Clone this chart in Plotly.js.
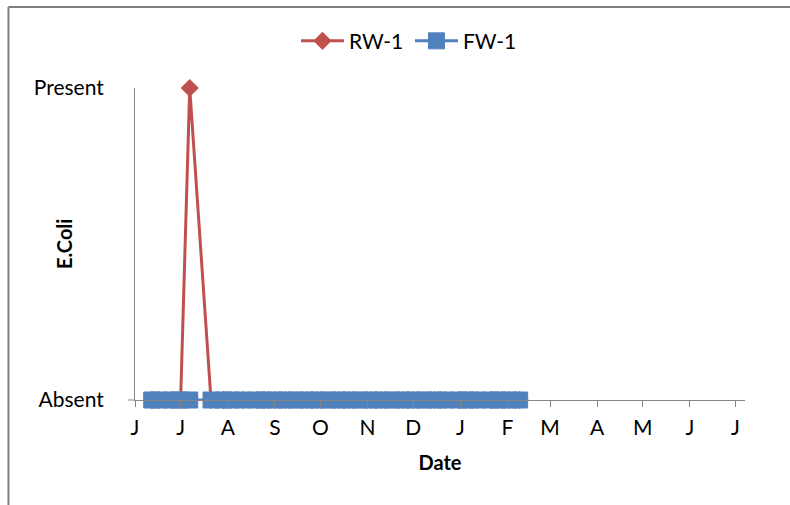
<!DOCTYPE html>
<html>
<head>
<meta charset="utf-8">
<script src="https://cdn.plot.ly/plotly-3.0.1.min.js"></script>
<style>html,body{margin:0;padding:0;background:#fff;}#chart{width:790px;height:505px;}</style>
</head>
<body>
<div id="chart"></div>
<script>
// Sample dates
var sampleDates = [
  '2012-06-12','2012-06-17','2012-06-25','2012-07-01','2012-07-07','2012-07-21',
  '2012-07-29','2012-08-03','2012-08-11','2012-08-20','2012-08-25','2012-09-01',
  '2012-09-08','2012-09-15','2012-09-22','2012-09-29','2012-10-06','2012-10-13',
  '2012-10-20','2012-10-27','2012-11-03','2012-11-10','2012-11-17','2012-11-24',
  '2012-12-01','2012-12-08','2012-12-15','2012-12-22','2012-12-31','2013-01-05',
  '2013-01-12','2013-01-21','2013-01-26','2013-02-02','2013-02-09'
];
// 0 = Absent, 1 = Present
var rw1 = [0,0,0,0,1,0, 0,0,0,0,0,0, 0,0,0,0,0,0, 0,0,0,0,0,0, 0,0,0,0,0,0, 0,0,0,0,0];
var fw1 = [0,0,0,0,0,0, 0,0,0,0,0,0, 0,0,0,0,0,0, 0,0,0,0,0,0, 0,0,0,0,0,0, 0,0,0,0,0];

var tickDates = ['2012-06-01','2012-07-01','2012-08-01','2012-09-01','2012-10-01','2012-11-01',
  '2012-12-01','2013-01-01','2013-02-01','2013-03-01','2013-04-01','2013-05-01','2013-06-01','2013-07-01'];
var tickLetters = ['J','J','A','S','O','N','D','J','F','M','A','M','J','J'];
var yVals = [0, 1];
var yLabels = ['Absent', 'Present'];
var yTitle = 'E.Coli';
var xTitle = 'Date';

var FONT = 'Lato, "Liberation Sans", Arial, sans-serif';
var GRAY = '#868686';
var RED = '#C0504D';
var BLUE = '#4F81BD';

var traces = [
  {
    x: sampleDates, y: rw1, name: 'RW-1', type: 'scatter', mode: 'lines+markers',
    line: {color: RED, width: 3},
    marker: {symbol: 'diamond', size: 14, color: RED, line: {width: 0}},
    cliponaxis: false
  },
  {
    x: sampleDates, y: fw1, name: 'FW-1', type: 'scatter', mode: 'lines+markers',
    line: {color: BLUE, width: 3},
    marker: {symbol: 'square', size: 16, color: BLUE, line: {color: BLUE, width: 1}},
    cliponaxis: false
  }
];

var layout = {
  width: 790, height: 505,
  margin: {l: 135, r: 45, t: 88, b: 105},
  paper_bgcolor: '#fff', plot_bgcolor: '#fff',
  font: {family: FONT, color: '#000', size: 21},
  showlegend: true,
  legend: {orientation: 'h', x: 0.4508, xanchor: 'center', y: 1.15, yanchor: 'middle',
           itemwidth: 43, entrywidth: 56, entrywidthmode: 'pixels',
           font: {family: FONT, size: 21, color: '#000'}, bgcolor: 'rgba(0,0,0,0)'},
  xaxis: {
    type: 'date',
    range: ['2012-06-01', '2013-07-07 05:00'],
    tickmode: 'array', tickvals: tickDates, ticktext: tickLetters,
    ticks: 'outside', ticklen: 6, tickcolor: GRAY, tickwidth: 1,
    showline: true, linecolor: GRAY, linewidth: 1,
    showgrid: false, zeroline: false,
    tickfont: {family: FONT, size: 21, color: '#000'},
    ticklabelstandoff: 3,
    title: {text: xTitle, font: {family: FONT, size: 20, weight: 'bold', color: '#000'}, standoff: 17},
    fixedrange: true
  },
  yaxis: {
    range: [0, 1],
    tickmode: 'array', tickvals: yVals, ticktext: yLabels,
    ticks: '', showline: true, linecolor: GRAY, linewidth: 1,
    showgrid: true, gridcolor: GRAY, gridwidth: 1, zeroline: false,
    tickfont: {family: FONT, size: 21, color: '#000'},
    ticklabelstandoff: 26,
    fixedrange: true
  },
  annotations: [
    {text: yTitle, xref: 'paper', yref: 'paper', x: -0.1164, y: 0.5,
     xanchor: 'center', yanchor: 'middle', textangle: -90, showarrow: false,
     font: {family: FONT, size: 20, weight: 'bold', color: '#000'}}
  ],
  shapes: [
    {type: 'line', xref: 'paper', yref: 'paper', x0: -0.012, x1: 0, y0: 0, y1: 0,
     line: {color: GRAY, width: 1}},
    {type: 'line', xref: 'paper', yref: 'paper', x0: -0.2074, x1: 1.2, y0: 1.2596, y1: 1.2596,
     line: {color: '#7f7f7f', width: 2}},
    {type: 'line', xref: 'paper', yref: 'paper', x0: -0.2074, x1: -0.2074, y0: 1.2596, y1: -0.4,
     line: {color: '#7f7f7f', width: 2}}
  ]
};

Plotly.newPlot('chart', traces, layout, {displayModeBar: false, staticPlot: true});
</script>
</body>
</html>
